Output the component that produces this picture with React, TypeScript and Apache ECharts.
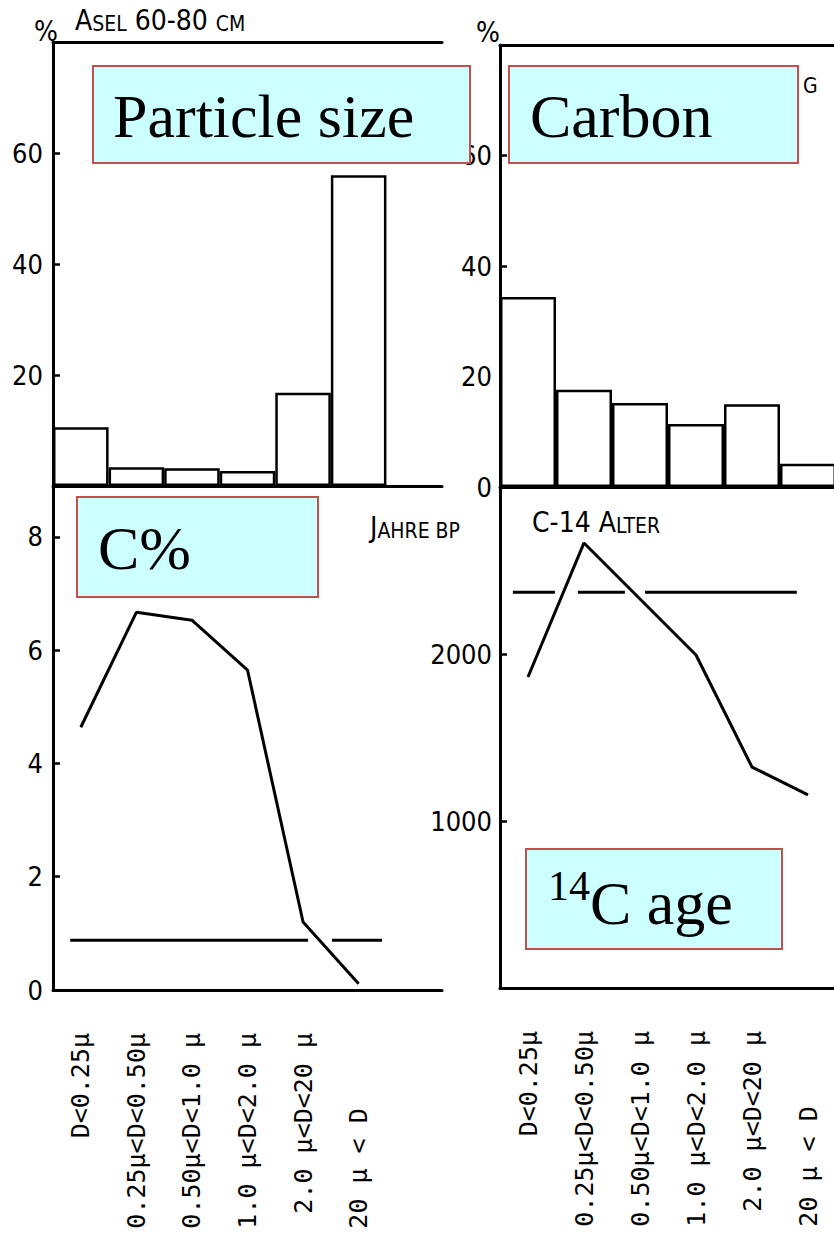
import React, { useEffect, useRef } from "react";
import * as echarts from "echarts";

// ---------- data ----------
const sizeClasses = ["D<0.25µ", "0.25µ<D<0.50µ", "0.50µ<D<1.0 µ", "1.0 µ<D<2.0 µ", "2.0 µ<D<20 µ", "20 µ < D"];
const particleSizePct = [10.6, 3.4, 3.2, 2.7, 16.8, 56.0];
const carbonPct = [34.4, 17.6, 15.2, 11.4, 15.0, 4.2];
const carbonContent = [4.64, 6.67, 6.53, 5.65, 1.2, 0.11];
const c14Age = [1862, 2665, 2329, 1994, 1323, 1156];
// bulk-sample reference lines (x in slot units, gaps where the curve crosses)
const bulkCarbonLine: any[] = [[0.31, 0.88], [4.59, 0.88], [4.8, "-"], [5.02, 0.88], [5.92, 0.88]];
const bulkAgeLine: any[] = [[0.23, 2370], [0.98, 2370], [1.2, "-"], [1.39, 2370], [2.23, 2370], [2.4, "-"], [2.59, 2370], [5.3, 2370]];
// tick labels shown on each axis
const leftPctTicks = [20, 40, 60];
const rightPctTicks = [0, 20, 40, 60];
const carbonTicks = [0, 2, 4, 6, 8];
const ageTicks = [1000, 2000];

const SERIF = '"Liberation Serif", "Times New Roman", serif';
const TW = '"Liberation Sans Narrow", "DejaVu Sans Condensed", "Liberation Sans", sans-serif';
const MONO = '"DejaVu Sans Mono", "Liberation Mono", monospace';

const slots = [...sizeClasses, ""];
const maxSuffix = Math.max(...sizeClasses.map((s) => s.length - s.indexOf("D") - 1));
const padLabel = (s: string) => {
  if (!s) return "";
  const suf = s.length - s.indexOf("D") - 1;
  return s + "\u00A0".repeat(Math.max(0, maxSuffix - suf - 1));
};

const axisLineStyle = { show: true, onZero: false, lineStyle: { color: "#000", width: 3 } };

function catAxis(gridIndex: number, position: string, labels: boolean) {
  return {
    type: "category",
    gridIndex,
    position,
    data: slots,
    boundaryGap: true,
    axisLine: axisLineStyle,
    axisTick: { show: false },
    axisLabel: labels
      ? {
          show: true,
          interval: 0,
          rotate: 90,
          margin: 43,
          fontFamily: MONO,
          fontSize: 25,
          color: "#000",
          formatter: (v: string) => padLabel(v),
        }
      : { show: false },
    splitLine: { show: false },
  };
}

function hiddenValueAxis(gridIndex: number) {
  return { type: "value", gridIndex, min: 0, max: 7, show: false };
}

function valAxis(gridIndex: number, max: number, interval: number, shown: number[], margin: number) {
  return {
    type: "value",
    gridIndex,
    min: 0,
    max,
    interval,
    axisLine: axisLineStyle,
    axisTick: { show: true, inside: true, length: 7, lineStyle: { color: "#000", width: 2.5 } },
    axisLabel: {
      margin,
      fontFamily: TW,
      fontSize: 27,
      color: "#000",
      formatter: (v: number) => (shown.includes(v) ? String(v) : ""),
    },
    splitLine: { show: false },
  };
}

const barStyle = { color: "#fff", borderColor: "#000", borderWidth: 2.5 };
const lineStyle = { color: "#000", width: 3 };

function box(x: number, y: number, w: number, h: number) {
  return {
    type: "rect",
    z: 100,
    shape: { x, y, width: w, height: h },
    style: { fill: "#CCFFFF", stroke: "#C0504D", lineWidth: 2 },
  };
}
function bigText(x: number, y: number, text: string, size = 62) {
  return {
    type: "text",
    z: 101,
    x,
    y,
    style: { text, fontFamily: SERIF, fontSize: size, fill: "#000", align: "left", verticalAlign: "middle" },
  };
}
function twText(x: number, y: number, text: string) {
  return {
    type: "text",
    z: 50,
    x,
    y,
    style: {
      text,
      fill: "#000",
      align: "left",
      verticalAlign: "middle",
      rich: {
        b: { fontFamily: TW, fontSize: 28, lineHeight: 28, verticalAlign: "bottom", fill: "#000" },
        s: { fontFamily: TW, fontSize: 21, lineHeight: 21, verticalAlign: "bottom", fill: "#000" },
      },
    },
  };
}

const gridBase = { outerBoundsMode: "none", containLabel: false };

export default function App() {
  const ref = useRef<HTMLDivElement>(null);
  useEffect(() => {
    if (!ref.current) return;
    const chart = echarts.init(ref.current, undefined, { renderer: "svg" });
    const option: any = {
      animation: false,
      backgroundColor: "#fff",
      grid: [
        { ...gridBase, left: 53, top: 42, width: 389, height: 444 },
        { ...gridBase, left: 53, top: 486, width: 389, height: 504 },
        { ...gridBase, left: 500, top: 45, width: 392, height: 442 },
        { ...gridBase, left: 500, top: 487, width: 392, height: 501 },
      ],
      xAxis: [
        catAxis(0, "bottom", false),
        catAxis(0, "top", false),
        catAxis(1, "bottom", true),
        hiddenValueAxis(1),
        catAxis(2, "bottom", false),
        catAxis(2, "top", false),
        catAxis(3, "bottom", true),
        hiddenValueAxis(3),
      ],
      yAxis: [
        valAxis(0, 80, 20, leftPctTicks, 10),
        valAxis(1, 8.9, 2, carbonTicks, 10),
        valAxis(2, 80, 20, rightPctTicks, 8),
        valAxis(3, 3000, 1000, ageTicks, 8),
      ],
      series: [
        { type: "bar", xAxisIndex: 0, yAxisIndex: 0, data: particleSizePct, barCategoryGap: "0%", itemStyle: barStyle },
        { type: "line", xAxisIndex: 2, yAxisIndex: 1, data: carbonContent, symbol: "none", lineStyle },
        { type: "line", xAxisIndex: 3, yAxisIndex: 1, data: bulkCarbonLine, symbol: "none", connectNulls: false, lineStyle },
        { type: "bar", xAxisIndex: 4, yAxisIndex: 2, data: carbonPct, barCategoryGap: "0%", itemStyle: barStyle },
        { type: "line", xAxisIndex: 6, yAxisIndex: 3, data: c14Age, symbol: "none", lineStyle },
        { type: "line", xAxisIndex: 7, yAxisIndex: 3, data: bulkAgeLine, symbol: "none", connectNulls: false, lineStyle },
      ],
      graphic: [
        twText(75, 20, "{b|A}{s|SEL}{b| 60-80 }{s|CM}"),
        twText(34, 31, "{b|%}"),
        twText(476, 32, "{b|%}"),
        twText(370, 527, "{b|J}{s|AHRE BP}"),
        twText(532, 522, "{b|C-14 A}{s|LTER}"),
        twText(803, 86, "{s|G}"),
        box(93, 66, 377, 97),
        bigText(113, 116, "Particle size"),
        box(509, 66, 289, 97),
        bigText(530, 116, "Carbon"),
        box(77, 497, 241, 100),
        bigText(98, 548, "C%"),
        box(526, 849, 256, 100),
        bigText(548, 886, "14", 42),
        bigText(590, 903, "C age"),
      ],
    };
    chart.setOption(option);
    return () => chart.dispose();
  }, []);
  return (
    <div style={{ position: "absolute", left: 0, top: 0, width: 834, height: 1247, overflow: "hidden", background: "#fff" }}>
      <div ref={ref} style={{ width: 900, height: 1247 }} />
    </div>
  );
}
